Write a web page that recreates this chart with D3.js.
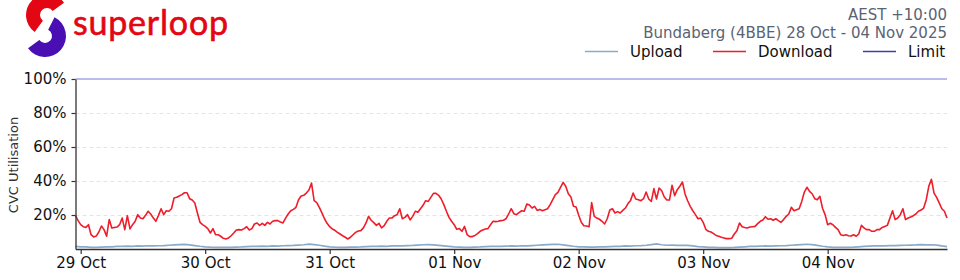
<!DOCTYPE html>
<html>
<head>
<meta charset="utf-8">
<script src="https://cdn.jsdelivr.net/npm/d3@7"></script>
<style>
  body { margin: 0; background: #fff; }
  svg { display: block; font-family: "DejaVu Sans", sans-serif; }
</style>
</head>
<body>
<div id="chart"></div>
<script>
// series start (AEST) and sample spacing
const startTime = "2025-10-28T23:00:00Z"
const downloadStepMinutes = 30
const uploadStepMinutes = 60

// download utilisation %, one row per day (30 min samples)
const downloadValues = [
  19.6, 16.7,
  14.3, 13.1, 12.7, 14.3, 8.4, 7.1, 7.6, 10.0, 13.5, 11.4, 7.6, 17.3, 12.4, 12.7, 12.9, 14.3, 18.2, 11.4, 19.6, 11.8, 14.3, 16.3, 20.2, 18.2,
  17.8, 19.8, 22.2, 20.6, 18.2, 16.3, 19.8, 23.7, 20.2, 22.5, 22.2, 23.7, 30.0, 30.4, 31.2, 32.0, 33.1, 33.1, 29.6, 28.8, 27.1, 21.2, 15.7, 14.3,
  13.3, 12.0, 9.4, 12.0, 8.4, 8.4, 7.5, 6.3, 5.9, 6.5, 7.8, 9.4, 11.2, 11.4, 11.2, 12.0, 13.1, 11.2, 12.0, 14.7, 15.3, 13.9, 15.1, 13.9,
  15.7, 14.7, 16.3, 16.7, 16.7, 15.9, 15.3, 18.2, 20.6, 22.5, 23.3, 24.5, 29.0, 31.2, 31.6, 32.9, 34.7, 38.8, 28.4, 27.3, 24.5, 21.2, 17.8, 15.1,
  13.1, 11.8, 11.0, 9.8, 8.8, 7.8, 6.9, 5.9, 6.9, 8.4, 9.8, 10.6, 10.8, 12.4, 15.3, 19.2, 16.9, 15.5, 13.9, 15.1, 12.4, 13.7, 16.3, 18.2,
  18.2, 19.6, 20.2, 23.7, 17.8, 18.6, 20.2, 17.1, 19.2, 22.2, 21.6, 23.7, 25.7, 28.4, 28.0, 30.4, 32.7, 32.7, 31.6, 29.4, 26.1, 22.2, 18.6, 16.3,
  14.3, 11.6, 12.0, 10.4, 13.3, 8.4, 7.3, 7.3, 8.0, 9.0, 10.4, 11.2, 11.8, 12.0, 14.3, 16.3, 16.1, 16.3, 16.7, 16.9, 17.8, 20.6, 23.7, 20.8,
  20.2, 21.4, 22.5, 22.2, 26.5, 25.9, 24.1, 25.1, 22.7, 23.3, 22.5, 23.1, 23.7, 26.1, 29.0, 32.0, 33.3, 36.3, 39.2, 36.9, 32.5, 30.6, 25.1, 24.7,
  19.8, 15.7, 13.7, 13.5, 13.1, 27.3, 19.2, 18.2, 17.5, 16.3, 14.7, 17.8, 22.9, 23.7, 21.2, 22.0, 21.2, 22.7, 24.1, 26.7, 28.6, 32.9, 29.4, 29.0,
  28.4, 29.6, 33.5, 29.4, 28.0, 35.5, 29.4, 35.9, 34.3, 30.6, 28.8, 28.8, 37.5, 31.4, 34.9, 36.9, 39.4, 32.4, 28.4, 25.1, 22.5, 20.2, 17.8, 18.2,
  15.7, 11.6, 10.4, 10.0, 9.0, 8.0, 7.5, 6.9, 6.5, 6.1, 6.1, 6.3, 8.8, 10.8, 15.3, 13.1, 12.7, 12.4, 12.9, 13.1, 13.3, 14.9, 16.3, 17.1,
  19.0, 17.5, 17.8, 16.9, 17.8, 16.7, 15.7, 17.3, 19.2, 20.6, 24.5, 22.5, 23.1, 23.7, 28.0, 33.5, 36.3, 33.9, 32.5, 29.6, 29.0, 31.0, 24.0, 20.2,
  14.3, 15.1, 14.3, 12.7, 11.4, 8.4, 8.0, 8.4, 7.8, 7.6, 8.4, 7.5, 9.0, 13.9, 12.4, 11.4, 11.4, 10.4, 10.4, 11.4, 11.4, 12.7, 13.3, 13.9,
  18.2, 22.5, 17.3, 18.2, 20.2, 23.7, 17.3, 18.2, 18.8, 19.6, 20.6, 22.2, 22.9, 24.1, 29.0, 37.0, 41.0, 32.9, 30.4, 27.1, 23.7, 22.2, 18.2
]

// upload utilisation %, hourly
const uploadValues = [
  1.5,
  1.3, 1.2, 1.0, 1.0, 1.1, 1.2, 1.3, 1.5, 1.6, 1.7, 1.6, 1.8, 1.7, 1.9, 1.8, 1.9, 2.0, 2.2, 2.4, 2.6, 2.7, 2.4, 2.0, 1.6,
  1.3, 1.1, 1.0, 0.9, 0.9, 1.0, 1.1, 1.2, 1.4, 1.5, 1.6, 1.7, 1.6, 1.8, 1.7, 1.9, 2.0, 2.1, 2.3, 2.5, 2.9, 2.6, 2.2, 1.7,
  1.3, 1.1, 1.0, 1.0, 1.1, 1.1, 1.2, 1.4, 1.5, 1.6, 1.7, 1.6, 1.8, 1.9, 1.8, 2.0, 2.1, 2.3, 2.5, 2.6, 2.4, 2.1, 1.8, 1.5,
  1.2, 1.1, 1.0, 1.0, 1.1, 1.2, 1.4, 1.5, 1.6, 1.5, 1.7, 1.8, 1.7, 1.9, 1.8, 2.0, 2.2, 2.4, 2.6, 2.7, 2.8, 2.4, 2.0, 1.6,
  1.3, 1.2, 1.1, 1.1, 1.2, 1.3, 1.4, 1.5, 1.6, 1.8, 1.7, 1.9, 2.0, 2.2, 2.6, 3.0, 2.5, 2.2, 2.3, 2.1, 2.2, 2.1, 1.8, 1.4,
  1.2, 1.0, 0.9, 0.8, 0.8, 0.8, 0.9, 1.1, 1.3, 1.5, 1.6, 1.7, 1.8, 1.7, 1.8, 1.9, 2.0, 2.2, 2.4, 2.6, 2.8, 2.6, 2.1, 1.6,
  1.2, 1.0, 0.9, 0.9, 1.0, 1.1, 1.3, 1.5, 1.7, 1.8, 1.9, 1.8, 2.0, 2.0, 2.1, 2.2, 2.3, 2.4, 2.6, 2.4, 2.5, 2.3, 1.8, 1.4
]

const limitValue = 100
const yTicks = [20, 40, 60, 80, 100]
const tickDays = ["2025-10-29", "2025-10-30", "2025-10-31", "2025-11-01", "2025-11-02", "2025-11-03", "2025-11-04"]
const tickLabels = ["29 Oct", "30 Oct", "31 Oct", "01 Nov", "02 Nov", "03 Nov", "04 Nov"]
const legendItems = ["Upload", "Download", "Limit"]
const headerLines = ["AEST +10:00", "Bundaberg (4BBE) 28 Oct - 04 Nov 2025"]

const colors = { Upload: "#8aaacb", Download: "#ee1d2a", Limit: "#3e3ea6" }

const W = 960, H = 280
const margin = { top: 79, right: 13, bottom: 31, left: 75.5 },
    width = W - margin.left - margin.right,
    height = H - margin.top - margin.bottom

const t0 = new Date(startTime).getTime()
const download = downloadValues.map((v, i) => ({ date: new Date(t0 + i * downloadStepMinutes * 60000), value: v }))
const upload = uploadValues.map((v, i) => ({ date: new Date(t0 + i * uploadStepMinutes * 60000), value: v }))

const root = d3.select("#chart").append("svg")
    .attr("width", W)
    .attr("height", H)

// logo
const logo = root.append("g")
const arc = d3.arc()
logo.append("path")
    .attr("transform", "translate(47,15)")
    .attr("fill", "#e30613")
    .attr("d", arc({ innerRadius: 7, outerRadius: 21, startAngle: Math.PI * 1.2, endAngle: Math.PI * 2.3 }))
logo.append("path")
    .attr("transform", "translate(45,36)")
    .attr("fill", "#4a0fb3")
    .attr("d", arc({ innerRadius: 7, outerRadius: 21, startAngle: Math.PI * 0.15, endAngle: Math.PI * 1.3 }))
logo.append("text")
    .attr("x", 73)
    .attr("y", 35)
    .attr("textLength", 155)
    .style("font-family", "Lato, 'Open Sans', sans-serif")
    .style("font-size", "34px")
    .attr("fill", "#e30613")
    .attr("stroke", "#e30613")
    .attr("stroke-width", 0.6)
    .text("superloop")

// header
root.selectAll(".hdr")
    .data(headerLines)
    .enter().append("text")
    .attr("class", "hdr")
    .attr("x", 947)
    .attr("y", (d, i) => 20 + i * 18)
    .attr("text-anchor", "end")
    .style("font-size", "15px")
    .attr("fill", "#5a6374")
    .text(d => d)

// legend
const legendX = [585, 713, 863]
const lg = root.selectAll(".lg")
    .data(legendItems)
    .enter().append("g")
    .attr("transform", (d, i) => `translate(${legendX[i]},0)`)
lg.append("line")
    .attr("x1", 0).attr("x2", 33)
    .attr("y1", 51.5).attr("y2", 51.5)
    .attr("stroke", d => colors[d])
    .attr("stroke-width", 1.5)
lg.append("text")
    .attr("x", 45)
    .attr("y", 57)
    .style("font-size", "15px")
    .attr("fill", "#111")
    .text(d => d)

const svg = root.append("g")
    .attr("transform", "translate(" + margin.left + "," + margin.top + ")")

const x = d3.scaleUtc()
    .domain(d3.extent(download, d => d.date))
    .range([0, width])
const y = d3.scaleLinear()
    .domain([0, 100])
    .range([height, 0])

// dashed grid
svg.append("g")
    .selectAll("line")
    .data(yTicks.filter(v => v < limitValue))
    .enter().append("line")
    .attr("x1", 0).attr("x2", width)
    .attr("y1", d => y(d) + 0.5).attr("y2", d => y(d) + 0.5)
    .attr("stroke", "#e4e4e4")
    .attr("stroke-dasharray", "4,3")

// limit line
svg.append("line")
    .attr("x1", 0).attr("x2", width)
    .attr("y1", y(limitValue)).attr("y2", y(limitValue))
    .attr("stroke", "#7779d6")
    .attr("stroke-width", 1.2)

// Add the lines
svg.append("path")
    .datum(upload)
    .attr("fill", "none")
    .attr("stroke", colors.Upload)
    .attr("stroke-width", 1.7)
    .attr("d", d3.line().x(d => x(d.date)).y(d => y(d.value)))

svg.append("path")
    .datum(download)
    .attr("fill", "none")
    .attr("stroke", colors.Download)
    .attr("stroke-width", 1.6)
    .attr("stroke-linejoin", "round")
    .attr("d", d3.line().x(d => x(d.date)).y(d => y(d.value)))

// axes
const xAxis = svg.append("g")
    .attr("transform", "translate(0," + height + ")")
    .call(d3.axisBottom(x)
        .tickValues(tickDays.map(d => new Date(d + "T00:00:00Z")))
        .tickFormat((d, i) => tickLabels[i])
        .tickSize(5)
        .tickPadding(3)
        .tickSizeOuter(0))
const yAxis = svg.append("g")
    .call(d3.axisLeft(y)
        .tickValues(yTicks)
        .tickFormat(d => d + "%")
        .tickSize(4)
        .tickPadding(5)
        .tickSizeOuter(0))

for (const ax of [xAxis, yAxis]) {
    ax.select(".domain").attr("stroke", "#333").attr("stroke-width", 1.3)
    ax.selectAll(".tick line").attr("stroke", "#333").attr("stroke-width", 1.2)
    ax.selectAll(".tick text")
        .style("font-family", "'DejaVu Sans', sans-serif")
        .style("font-size", "15px")
        .attr("fill", "#111")
}

// y label
root.append("text")
    .attr("transform", "translate(18,165) rotate(-90)")
    .attr("text-anchor", "middle")
    .style("font-size", "13px")
    .attr("fill", "#333")
    .text("CVC Utilisation")
</script>
</body>
</html>
